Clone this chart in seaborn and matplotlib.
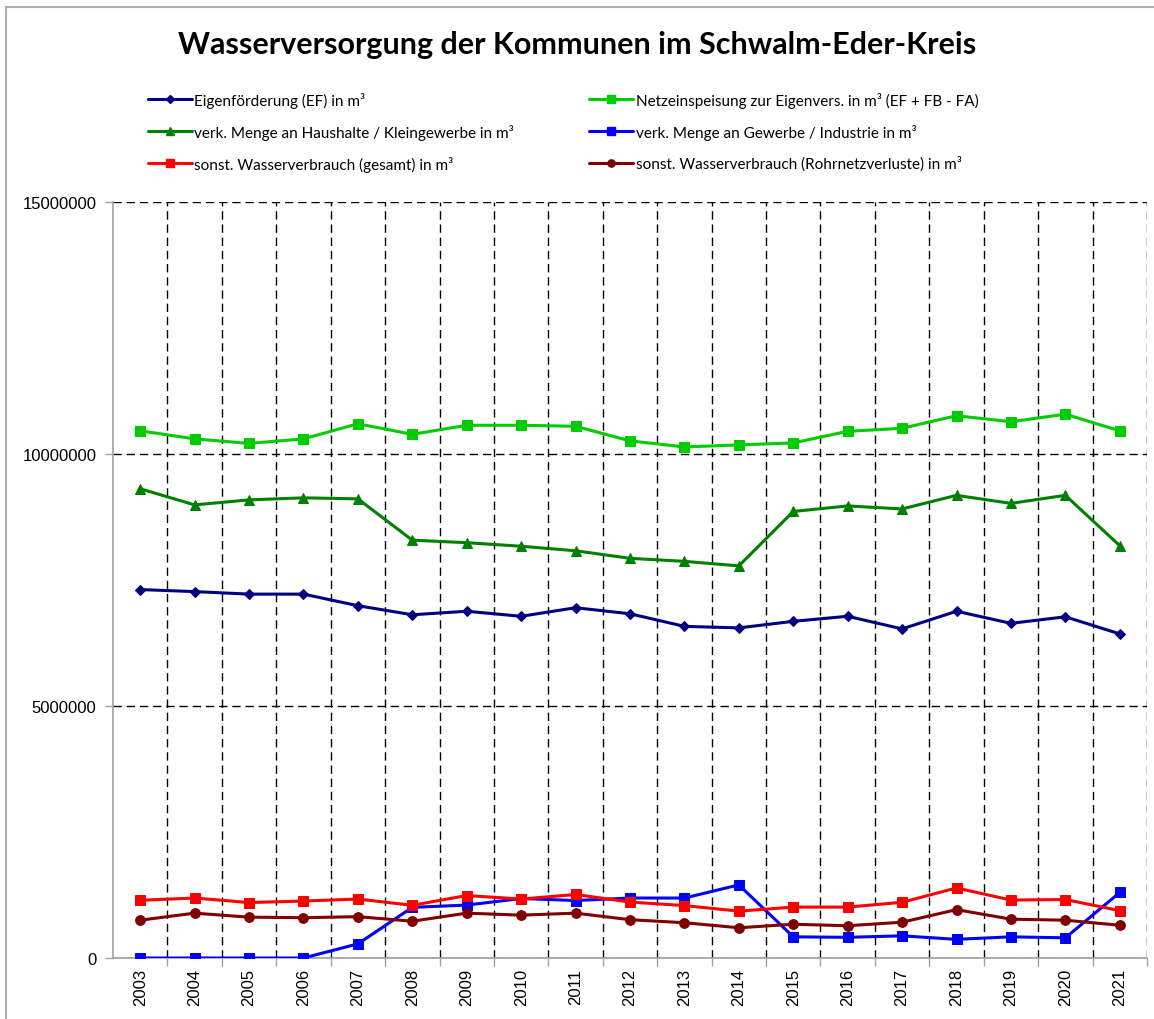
import numpy as np
import pandas as pd
import matplotlib
matplotlib.use("Agg")
import matplotlib.pyplot as plt
import seaborn as sns
from matplotlib.lines import Line2D

years = [str(y) for y in range(2003, 2022)]

eigenfoerderung = [7.31, 7.27, 7.22, 7.22, 6.99, 6.81, 6.88, 6.78, 6.95, 6.83,
                   6.58, 6.55, 6.68, 6.78, 6.53, 6.88, 6.64, 6.77, 6.43]
netzeinspeisung = [10.46, 10.30, 10.21, 10.30, 10.60, 10.39, 10.57, 10.57, 10.55, 10.26,
                   10.14, 10.18, 10.22, 10.45, 10.51, 10.76, 10.64, 10.79, 10.46]
haushalte = [9.31, 8.99, 9.09, 9.13, 9.11, 8.29, 8.24, 8.17, 8.08, 7.93,
             7.87, 7.78, 8.86, 8.97, 8.91, 9.18, 9.02, 9.18, 8.18]
gewerbe = [0.0, 0.0, 0.0, 0.0, 0.28, 1.005, 1.05, 1.18, 1.14, 1.19,
           1.19, 1.45, 0.42, 0.41, 0.44, 0.37, 0.42, 0.40, 1.30]
sonst_gesamt = [1.145, 1.19, 1.10, 1.13, 1.17, 1.045, 1.24, 1.17, 1.26, 1.11,
                1.04, 0.93, 1.01, 1.01, 1.105, 1.39, 1.15, 1.16, 0.94]
rohrnetz = [0.75, 0.89, 0.81, 0.80, 0.82, 0.73, 0.89, 0.85, 0.89, 0.76,
            0.70, 0.60, 0.67, 0.64, 0.71, 0.96, 0.77, 0.75, 0.65]

labels = [
    "Eigenförderung (EF) in m³",
    "Netzeinspeisung zur Eigenvers. in m³ (EF + FB - FA)",
    "verk. Menge an Haushalte / Kleingewerbe in m³",
    "verk. Menge an Gewerbe / Industrie in m³",
    "sonst. Wasserverbrauch (gesamt) in m³",
    "sonst. Wasserverbrauch (Rohrnetzverluste) in m³",
]
series = [eigenfoerderung, netzeinspeisung, haushalte, gewerbe, sonst_gesamt, rohrnetz]
colors = ["#000080", "#00CC00", "#008000", "#0000FF", "#FF0000", "#800000"]
markers = ["D", "s", "^", "s", "s", "o"]
msizes = [5.5, 7, 7.5, 7, 7, 7]

rows = []
for lab, vals in zip(labels, series):
    for i, (yr, v) in enumerate(zip(years, vals)):
        rows.append({"idx": i, "Jahr": yr, "Wert": v * 1e6, "Serie": lab})
df = pd.DataFrame(rows)

sns.set_theme(style="white")
plt.rcParams['font.family'] = ['Liberation Sans', 'DejaVu Sans']
plt.rcParams['text.color'] = 'black'
plt.rcParams['xtick.color'] = 'black'
plt.rcParams['ytick.color'] = 'black'

fig = plt.figure(figsize=(11.54, 10.20), dpi=100)
ax = fig.add_axes([113/1154, 61/1020, (1147-113)/1154, (959-203)/1020])

handles = []
for lab, col, mk, ms in zip(labels, colors, markers, msizes):
    sub = df[df["Serie"] == lab]
    sns.lineplot(data=sub, x="idx", y="Wert", ax=ax, color=col, marker=mk,
                 markersize=ms, markeredgecolor=col, linewidth=2.2, legend=False,
                 zorder=3)
    handles.append(Line2D([0], [0], color=col, marker=mk, markersize=ms * 0.75,
                          markeredgecolor=col, linewidth=2.2))

ax.set_xlim(-0.5, len(years) - 0.5)
ax.set_ylim(0, 15e6)
ax.set_xticks(range(len(years)))
ax.set_xticklabels(years, rotation=90, fontsize=12)
ax.set_xticks(np.arange(0.5, len(years), 1.0), minor=True)
ax.set_yticks([0, 5e6, 10e6, 15e6])
ax.set_yticklabels(["0", "5000000", "10000000", "15000000"], fontsize=12)
ax.set_xlabel("")
ax.set_ylabel("")

ax.grid(False)
ax.yaxis.grid(True, which="major", color="black", linestyle=(0, (6, 3.5)), linewidth=1.0)
ax.xaxis.grid(True, which="minor", color="black", linestyle=(0, (6, 3.5)), linewidth=1.0)
ax.set_axisbelow(True)

for s in ["top", "right"]:
    ax.spines[s].set_visible(False)
for s in ["left", "bottom"]:
    ax.spines[s].set_color("#A0A0A0")
    ax.spines[s].set_linewidth(1.2)
    ax.spines[s].set_zorder(2.6)

ax.tick_params(axis="x", which="major", length=0, pad=7)
ax.tick_params(axis="x", which="minor", length=6, width=1, color="#A0A0A0", direction="out", bottom=True)
ax.tick_params(axis="y", which="major", length=6, width=1, color="#A0A0A0", direction="out", left=True, pad=6)

order = [0, 2, 4, 1, 3, 5]
leg = fig.legend([handles[i] for i in order], [labels[i] for i in order],
                 loc="upper left", bbox_to_anchor=(134/1154, 1 - 79/1020),
                 ncol=2, frameon=False, handlelength=2.9,
                 handletextpad=0.15, columnspacing=4.9, labelspacing=1.05,
                 prop={"family": ["Lato", "DejaVu Sans"], "size": 11})
for t in leg.get_texts():
    t.set_color("black")

fig.text(0.5, 1 - 45/1020, "Wasserversorgung der Kommunen im Schwalm-Eder-Kreis",
         ha="center", va="center", fontsize=22, fontweight="bold", color="black",
         family=["Lato", "DejaVu Sans"])

# outer chart frame (top and left)
fig.add_artist(Line2D([6/1154, 1], [1 - 8/1020, 1 - 8/1020], color="#B0B0B0", linewidth=1.5, transform=fig.transFigure))
fig.add_artist(Line2D([6/1154, 6/1154], [0, 1 - 8/1020], color="#B0B0B0", linewidth=1.5, transform=fig.transFigure))

fig.savefig("out.png", dpi=100)
